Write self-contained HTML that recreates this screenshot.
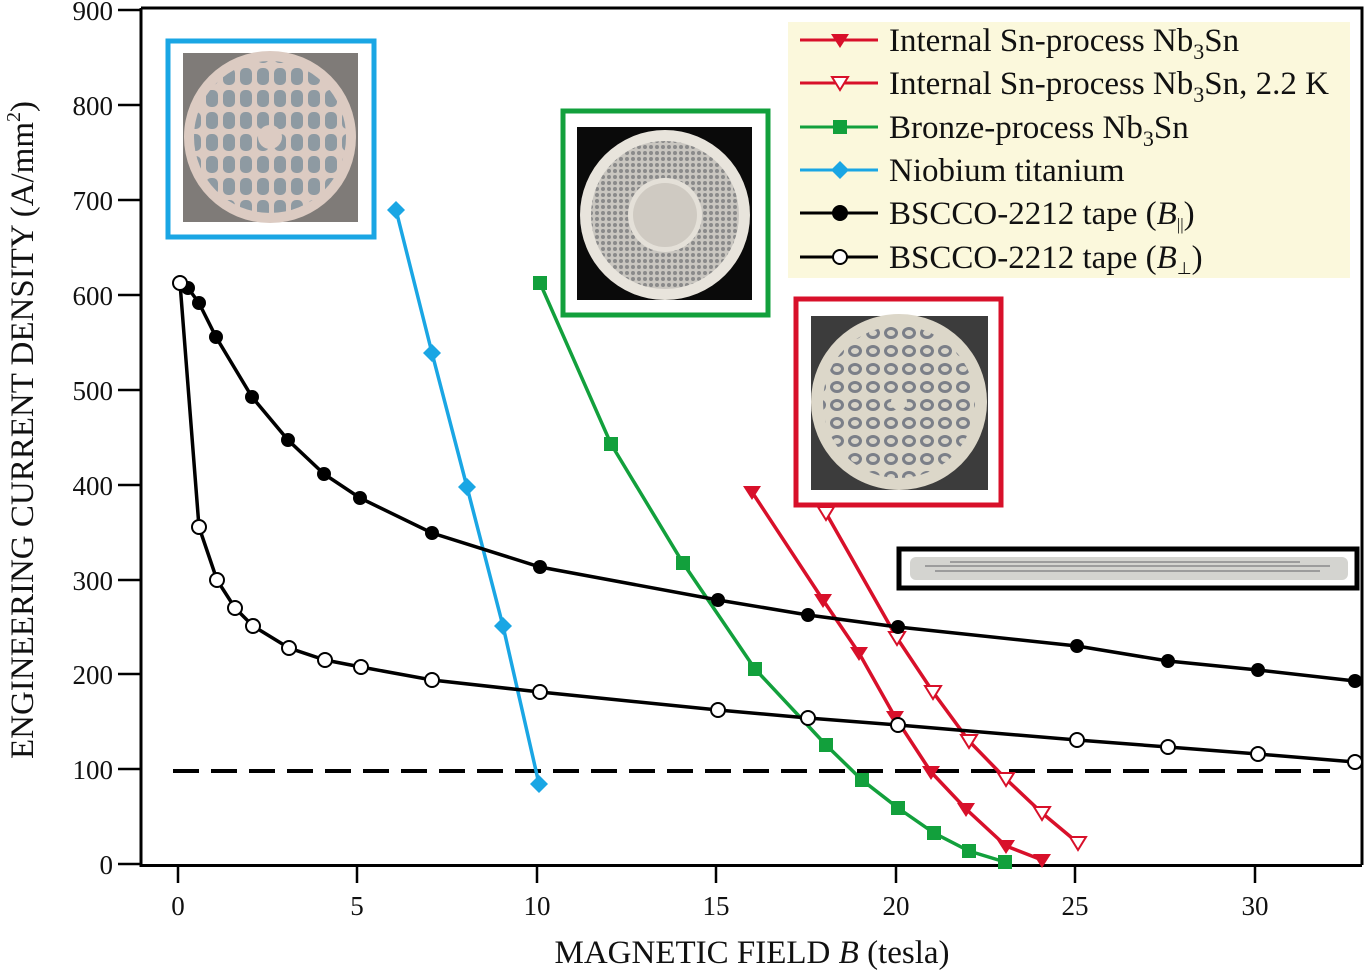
<!DOCTYPE html>
<html><head><style>
html,body{margin:0;padding:0;background:#fff;}
svg{display:block;}
text{font-family:"Liberation Serif",serif;}
.t{font-family:"Liberation Sans",sans-serif;font-size:27px;fill:#111;}
.lg{font-size:33px;fill:#111;}
</style></head><body>
<svg width="1365" height="973" viewBox="0 0 1365 973" xmlns="http://www.w3.org/2000/svg">
<defs>
<pattern id="pb" x="0" y="0" width="17" height="22" patternUnits="userSpaceOnUse">
<rect x="2" y="2" width="12" height="17" rx="5" fill="#8e9aa2"/></pattern>
<pattern id="pg" x="0" y="0" width="6" height="6" patternUnits="userSpaceOnUse">
<rect width="6" height="6" fill="#c9c6c0"/><circle cx="3" cy="3" r="2" fill="#8a8a8a"/></pattern>
<pattern id="pr" x="0" y="0" width="18" height="18" patternUnits="userSpaceOnUse">
<ellipse cx="9" cy="9" rx="7" ry="6" fill="#7b7f88"/><ellipse cx="9" cy="9" rx="4" ry="3" fill="#d8d4c8"/></pattern>
<clipPath id="cb"><circle cx="270" cy="137" r="76"/></clipPath>
<clipPath id="cr"><circle cx="899" cy="402" r="76"/></clipPath>
</defs>
<g stroke="#000" fill="none">
<path d="M141 8 V865.5 H1362 M141 8 H1362 V865" stroke-width="3"/>
<g stroke-width="2.5">
<path d="M118 10H141M118 105H141M118 200H141M118 295H141M118 390H141M118 485H141M118 580H141M118 674H141M118 769H141M118 864H141"/>
<path d="M178 864V883M357 864V883M537 864V883M716 864V883M896 864V883M1075 864V883M1255 864V883"/>
</g></g>
<g class="t" text-anchor="end">
<text x="113" y="20">900</text><text x="113" y="115">800</text><text x="113" y="210">700</text><text x="113" y="305">600</text><text x="113" y="400">500</text><text x="113" y="495">400</text><text x="113" y="590">300</text><text x="113" y="684">200</text><text x="113" y="779">100</text><text x="113" y="874">0</text>
</g>
<g class="t" text-anchor="middle">
<text x="178" y="915">0</text><text x="357" y="915">5</text><text x="537" y="915">10</text><text x="716" y="915">15</text><text x="896" y="915">20</text><text x="1075" y="915">25</text><text x="1255" y="915">30</text>
</g>
<text x="752" y="963" text-anchor="middle" font-size="33" fill="#111">MAGNETIC FIELD <tspan font-style="italic">B</tspan> (tesla)</text>
<text transform="translate(33,430) rotate(-90)" text-anchor="middle" font-size="33" fill="#111">ENGINEERING CURRENT DENSITY (A/mm<tspan font-size="20" dy="-13">2</tspan><tspan dy="13">)</tspan></text>
<path d="M173 771H1330" stroke="#000" stroke-width="4" stroke-dasharray="26,12"/>
<rect x="788" y="22" width="562" height="256" fill="#fbf8dc"/>
<g stroke-width="3">
<path d="M800 40H878" stroke="#d8102a"/><path d="M831 34h18l-9 14z" fill="#d8102a"/>
<path d="M800 83H878" stroke="#d8102a"/><path d="M832 77h16l-8 13z" fill="#fff" stroke="#d8102a" stroke-width="2"/>
<path d="M800 127H878" stroke="#12a03c"/><rect x="833" y="120" width="14" height="14" fill="#12a03c" stroke="none"/>
<path d="M800 170H878" stroke="#1aa6e4"/><path d="M840 161l9 9-9 9-9-9z" fill="#1aa6e4" stroke="none"/>
<path d="M800 213H878" stroke="#000"/><circle cx="840" cy="213" r="8" fill="#000"/>
<path d="M800 257H878" stroke="#000"/><circle cx="840" cy="257" r="7" fill="#fff" stroke="#000" stroke-width="2"/>
</g>
<g class="lg">
<text x="889" y="51">Internal Sn-process Nb<tspan font-size="22" dy="8">3</tspan><tspan dy="-8">Sn</tspan></text>
<text x="889" y="94">Internal Sn-process Nb<tspan font-size="22" dy="8">3</tspan><tspan dy="-8">Sn, 2.2 K</tspan></text>
<text x="889" y="138">Bronze-process Nb<tspan font-size="22" dy="8">3</tspan><tspan dy="-8">Sn</tspan></text>
<text x="889" y="181">Niobium titanium</text>
<text x="889" y="224">BSCCO-2212 tape (<tspan font-style="italic">B</tspan><tspan font-size="17" dy="6">||</tspan><tspan dy="-6">)</tspan></text>
<text x="889" y="268">BSCCO-2212 tape (<tspan font-style="italic">B</tspan><tspan font-size="17" dy="6">⊥</tspan><tspan dy="-6">)</tspan></text>
</g>
<rect x="168" y="41" width="206" height="196" fill="#fff" stroke="#1aa6e4" stroke-width="5"/>
<rect x="183" y="53" width="175" height="169" fill="#7f7b78"/>
<circle cx="270" cy="137" r="86" fill="#dccbc2"/>
<rect x="190" y="57" width="160" height="160" fill="url(#pb)" clip-path="url(#cb)"/>
<circle cx="270" cy="137" r="12" fill="#dccbc2"/>
<rect x="563" y="111" width="205" height="204" fill="#fff" stroke="#12a03c" stroke-width="5"/>
<rect x="577" y="127" width="175" height="173" fill="#0a0a0a"/>
<circle cx="665" cy="215" r="85" fill="#e8e4dc"/>
<circle cx="665" cy="215" r="74" fill="url(#pg)"/>
<circle cx="665" cy="215" r="37" fill="#e4e0d8"/>
<circle cx="665" cy="215" r="32" fill="#cfcac2"/>
<rect x="796" y="299" width="205" height="206" fill="#fff" stroke="#d8102a" stroke-width="5"/>
<rect x="811" y="316" width="177" height="174" fill="#3c3c3c"/>
<circle cx="899" cy="402" r="88" fill="#dcd7c9"/>
<rect x="820" y="323" width="160" height="160" fill="url(#pr)" clip-path="url(#cr)"/>
<circle cx="899" cy="402" r="8" fill="#dcd7c9"/>
<rect x="899" y="549" width="458" height="39" fill="#fff" stroke="#000" stroke-width="5"/>
<rect x="910" y="557" width="438" height="23" rx="6" fill="#d4d4d0"/>
<path d="M925 566H1330M935 571H1320M950 562H1300" stroke="#8a8a8a" stroke-width="1.5"/>
<g fill="none" stroke-width="3.5">
<polyline stroke="#1aa6e4" points="396,210 432,353 467,487 503,626 539,784"/>
<polyline stroke="#12a03c" points="540,283 611,444 683,563 755,669 826,745 862,780 898,808 934,833 969,851 1005,862"/>
<polyline stroke="#d8102a" points="752,492 823,600 859,653 895,717 931,772 966,809 1006,846 1042,860"/>
<polyline stroke="#d8102a" points="826,513 897,638 933,692 969,741 1006,779 1042,813 1078,843"/>
<polyline stroke="#000" points="182,286 188,288 199,303 216,337 252,397 288,440 324,474 360,498 432,533 540,567 718,600 808,615 898,627 1077,646 1168,661 1258,670 1355,681"/>
<polyline stroke="#000" points="180,283 199,527 217,580 235,608 253,626 289,648 325,660 361,667 432,680 540,692 718,710 808,718 898,725 1077,740 1168,747 1258,754 1355,762"/>
</g>
<g fill="#1aa6e4">
<path d="M396 201l9 9-9 9-9-9z"/><path d="M432 344l9 9-9 9-9-9z"/><path d="M467 478l9 9-9 9-9-9z"/><path d="M503 617l9 9-9 9-9-9z"/><path d="M539 775l9 9-9 9-9-9z"/>
</g>
<g fill="#12a03c">
<rect x="533" y="276" width="14" height="14"/><rect x="604" y="437" width="14" height="14"/><rect x="676" y="556" width="14" height="14"/><rect x="748" y="662" width="14" height="14"/><rect x="819" y="738" width="14" height="14"/><rect x="855" y="773" width="14" height="14"/><rect x="891" y="801" width="14" height="14"/><rect x="927" y="826" width="14" height="14"/><rect x="962" y="844" width="14" height="14"/><rect x="998" y="855" width="14" height="14"/>
</g>
<g fill="#d8102a">
<path d="M743 486h18l-9 14z"/><path d="M814 594h18l-9 14z"/><path d="M850 647h18l-9 14z"/><path d="M886 711h18l-9 14z"/><path d="M922 766h18l-9 14z"/><path d="M957 803h18l-9 14z"/><path d="M997 840h18l-9 14z"/><path d="M1033 854h18l-9 14z"/>
</g>
<g fill="#fff" stroke="#d8102a" stroke-width="2">
<path d="M818 507h16l-8 13z"/><path d="M889 632h16l-8 13z"/><path d="M925 686h16l-8 13z"/><path d="M961 735h16l-8 13z"/><path d="M998 773h16l-8 13z"/><path d="M1034 807h16l-8 13z"/><path d="M1070 837h16l-8 13z"/>
</g>
<g fill="#000">
<circle cx="188" cy="288" r="7"/><circle cx="199" cy="303" r="7"/><circle cx="216" cy="337" r="7"/><circle cx="252" cy="397" r="7"/><circle cx="288" cy="440" r="7"/><circle cx="324" cy="474" r="7"/><circle cx="360" cy="498" r="7"/><circle cx="432" cy="533" r="7"/><circle cx="540" cy="567" r="7"/><circle cx="718" cy="600" r="7"/><circle cx="808" cy="615" r="7"/><circle cx="898" cy="627" r="7"/><circle cx="1077" cy="646" r="7"/><circle cx="1168" cy="661" r="7"/><circle cx="1258" cy="670" r="7"/><circle cx="1355" cy="681" r="7"/>
</g>
<g fill="#fff" stroke="#000" stroke-width="2">
<circle cx="180" cy="283" r="7"/><circle cx="199" cy="527" r="7"/><circle cx="217" cy="580" r="7"/><circle cx="235" cy="608" r="7"/><circle cx="253" cy="626" r="7"/><circle cx="289" cy="648" r="7"/><circle cx="325" cy="660" r="7"/><circle cx="361" cy="667" r="7"/><circle cx="432" cy="680" r="7"/><circle cx="540" cy="692" r="7"/><circle cx="718" cy="710" r="7"/><circle cx="808" cy="718" r="7"/><circle cx="898" cy="725" r="7"/><circle cx="1077" cy="740" r="7"/><circle cx="1168" cy="747" r="7"/><circle cx="1258" cy="754" r="7"/><circle cx="1355" cy="762" r="7"/>
</g>
</svg>
</body></html>
